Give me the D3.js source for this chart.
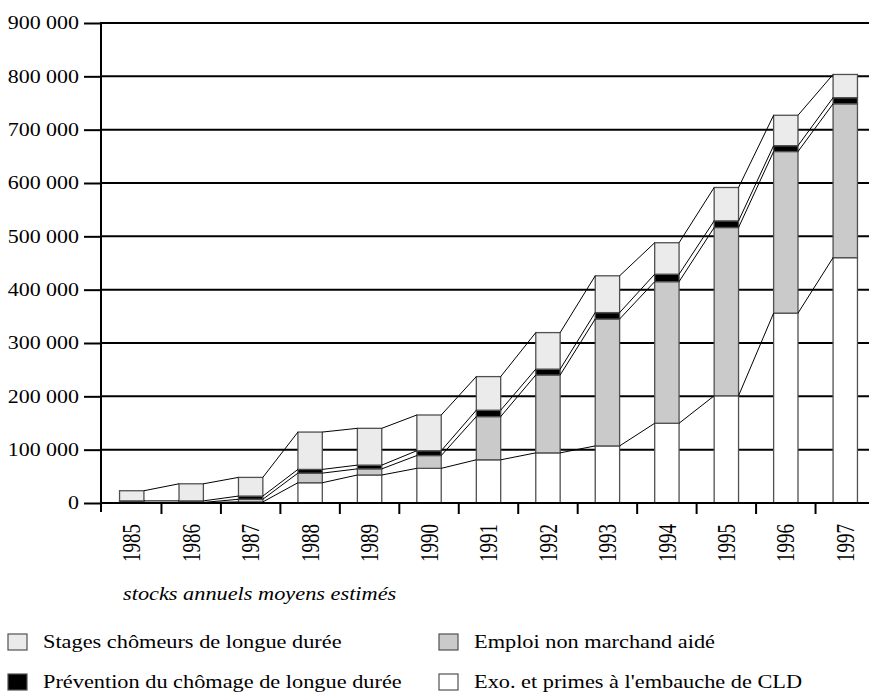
<!DOCTYPE html>
<html><head><meta charset="utf-8">
<script src="https://cdn.jsdelivr.net/npm/d3@7"></script>
<style>
html,body{margin:0;padding:0;background:#fff;overflow:hidden}
</style></head>
<body><svg id="c" width="869" height="693"></svg>
<script>
const years = ["1985","1986","1987","1988","1989","1990","1991","1992","1993","1994","1995","1996","1997"];
const exo      = [1000, 1000, 2000, 38000, 52500, 65000, 81000, 94000, 107000, 149500, 201000, 356000, 460000];
const emploi   = [0, 0, 5000, 18000, 11500, 24000, 81000, 146000, 238000, 265500, 315500, 303000, 288500];
const prevention = [3000, 3000, 6000, 7000, 7000, 9000, 12000, 11000, 12000, 14000, 12500, 11000, 11500];
const stages   = [19000, 32000, 35000, 70000, 69000, 67000, 63000, 68500, 69000, 59000, 62600, 57000, 43500];
const yTicks = [0,100000,200000,300000,400000,500000,600000,700000,800000,900000];
const seriesNames = ["Exo. et primes à l'embauche de CLD","Emploi non marchand aidé","Prévention du chômage de longue durée","Stages chômeurs de longue durée"];
const caption = "stocks annuels moyens estimés";

const FONT = "'Liberation Serif', Tinos, 'Times New Roman', serif";
const SX = 1.24;
const colors = ["#ffffff","#cacaca","#000000","#ebebeb"];
const svg = d3.select("#c");
const x = d3.scaleBand().domain(years).range([102, 875]).padding(0);
const y = d3.scaleLinear().domain([0, 900000]).range([503, 23]);
const barW = x.bandwidth()*0.41;

const rows = years.map((yr,i)=>({yr, exo:exo[i], emploi:emploi[i], prevention:prevention[i], stages:stages[i]}));
const keys = ["exo","emploi","prevention","stages"];
const stacked = d3.stack().keys(keys)(rows);

// gridlines
svg.append("g").selectAll("line").data(yTicks.slice(1)).join("line")
  .attr("x1",100).attr("x2",880).attr("y1",d=>y(d)).attr("y2",d=>y(d))
  .attr("stroke","#000").attr("stroke-width",2);

// y axis
const yAxis = d3.axisLeft(y).tickValues(yTicks).tickSize(17).tickPadding(5)
  .tickFormat(d=>d3.format(",")(d).replace(/,/g," "));
const ga = svg.append("g").attr("transform","translate(101,0)").call(yAxis);
ga.select(".domain").remove();
ga.selectAll(".tick line").attr("stroke","#000").attr("stroke-width",2);
ga.selectAll("text").attr("fill","#000").attr("x",0)
  .attr("transform",`translate(-22,0) scale(1.22,1)`)
  .attr("style",`font-family:${FONT};font-size:18px`);
svg.append("line").attr("x1",101).attr("x2",101).attr("y1",22).attr("y2",512).attr("stroke","#000").attr("stroke-width",2);

// bars
stacked.forEach((s,k)=>{
  svg.append("g").selectAll("rect").data(s).join("rect")
    .attr("x",d=>x(d.data.yr)+(x.bandwidth()-barW)/2)
    .attr("width",barW)
    .attr("y",d=>y(d[1]))
    .attr("height",d=>Math.max(0,y(d[0])-y(d[1])))
    .attr("fill",colors[k]).attr("stroke","#505050").attr("stroke-width",1.3);
});

// series lines
stacked.forEach((s,k)=>{
  const segs = d3.pairs(s);
  svg.append("g").selectAll("line").data(segs).join("line")
    .attr("x1",d=>x(d[0].data.yr)+(x.bandwidth()+barW)/2)
    .attr("x2",d=>x(d[1].data.yr)+(x.bandwidth()-barW)/2)
    .attr("y1",d=>y(d[0][1])).attr("y2",d=>y(d[1][1]))
    .attr("stroke","#000").attr("stroke-width",1);
});

// x axis
svg.append("line").attr("x1",100).attr("x2",880).attr("y1",y(0)).attr("y2",y(0)).attr("stroke","#000").attr("stroke-width",2);
svg.append("g").selectAll("line").data(years.slice(1)).join("line")
  .attr("x1",d=>x(d)).attr("x2",d=>x(d)).attr("y1",y(0)).attr("y2",y(0)+11)
  .attr("stroke","#000").attr("stroke-width",2);
svg.append("g").selectAll("text").data(years).join("text")
  .attr("transform",d=>`translate(${x(d)+x.bandwidth()/2},524) scale(1.3,1) rotate(-90)`)
  .attr("text-anchor","end").attr("dy","0.35em").attr("style",`font-family:${FONT};font-size:19px`).text(d=>d);

svg.append("text").attr("transform",`translate(123,600) scale(${SX},1)`)
  .attr("style",`font-family:${FONT};font-size:18px;font-style:italic`).text(caption);

// legend
const legend = [
  {name:seriesNames[3], c:colors[3], x:8, y:634},
  {name:seriesNames[1], c:colors[1], x:439, y:634},
  {name:seriesNames[2], c:colors[2], x:8, y:674},
  {name:seriesNames[0], c:colors[0], x:439, y:674}
];
const lg = svg.append("g").selectAll("g").data(legend).join("g").attr("transform",d=>`translate(${d.x},${d.y})`);
lg.append("rect").attr("width",19).attr("height",16).attr("fill",d=>d.c).attr("stroke","#505050").attr("stroke-width",1.2);
lg.append("text").attr("transform",`translate(35,14) scale(${SX},1)`).attr("style",`font-family:${FONT};font-size:18px`).text(d=>d.name);
</script></body></html>
